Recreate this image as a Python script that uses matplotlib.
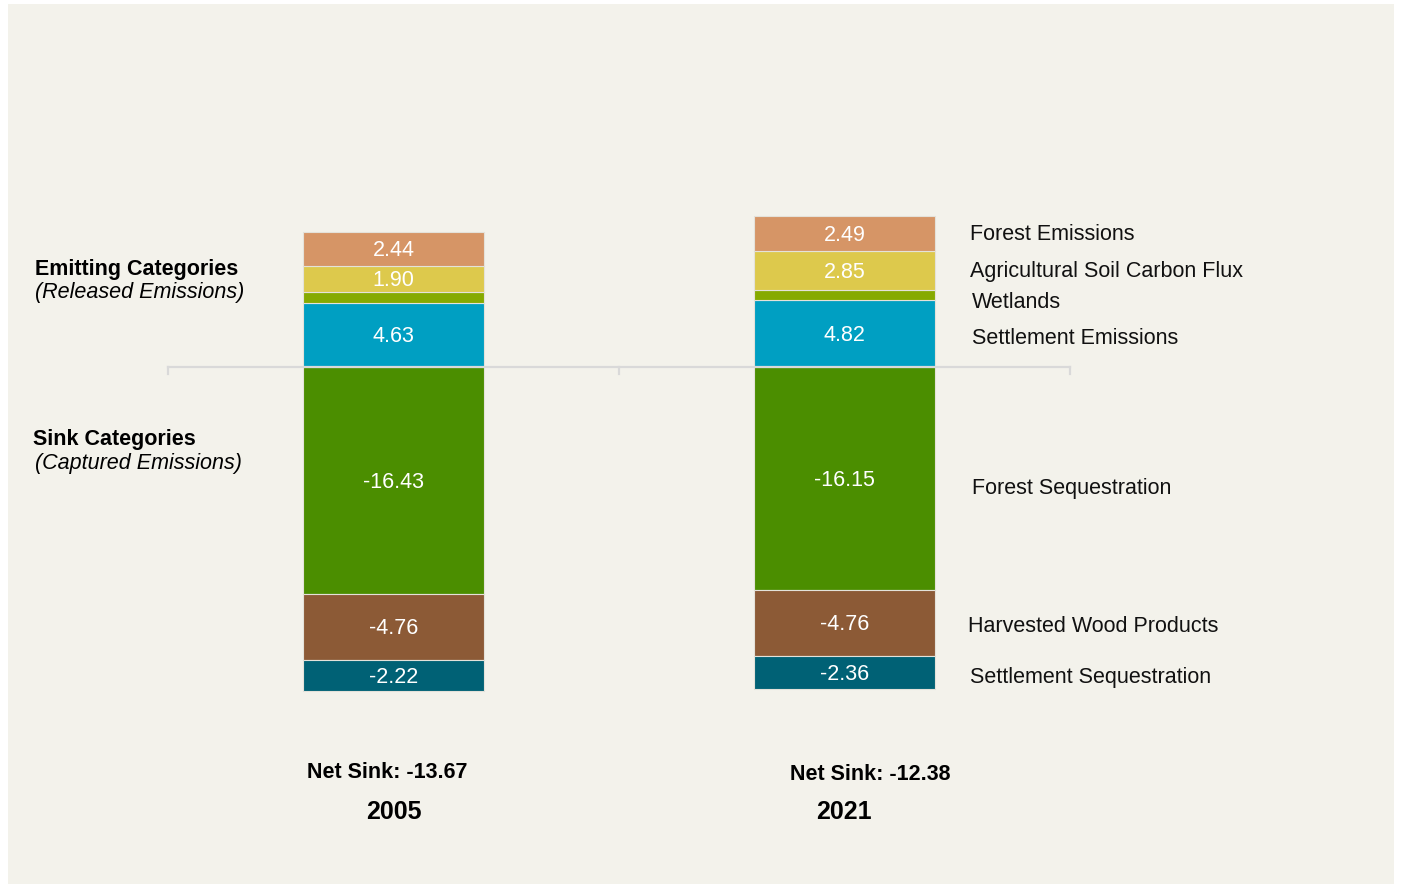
import numpy as np
import matplotlib.pyplot as plt
from matplotlib.patches import Rectangle

plt.rcParams['font.family'] = ['Liberation Sans', 'DejaVu Sans']

# data
years = ['2005', '2021']
net_sink = [-13.67, -12.38]

pos_names = ['Settlement Emissions', 'Wetlands', 'Agricultural Soil Carbon Flux', 'Forest Emissions']
pos_vals = [[4.63, 4.82], [0.77, 0.73], [1.90, 2.85], [2.44, 2.49]]
pos_cols = ['#009fc2', '#86aa00', '#ddc94c', '#d69566']
pos_show = [True, False, True, True]

neg_names = ['Forest Sequestration', 'Harvested Wood Products', 'Settlement Sequestration']
neg_vals = [[-16.43, -16.15], [-4.76, -4.76], [-2.22, -2.36]]
neg_cols = ['#4b8e00', '#8c5a36', '#006175']

W, H = 1402, 884
fig = plt.figure(figsize=(W / 100, H / 100), dpi=100, facecolor='white')
fig.patches.append(Rectangle((8 / W, 0), 1386 / W, 880 / H, transform=fig.transFigure,
                             facecolor='#f3f2eb', edgecolor='none', zorder=-10))

def fx(px):
    return px / W

def fy(py):
    # small offset: va='center' sits a bit high compared with the reference
    return 1 - (py + 2) / H

scale = 13.83
zero_px = 367
top_px, bot_px = 100, 760
ax = fig.add_axes([fx(168), 1 - bot_px / H, 902 / W, (bot_px - top_px) / H])
ax.set_xlim(-0.5, 1.5)
ax.set_ylim((zero_px - bot_px) / scale, (zero_px - top_px) / scale)
ax.patch.set_alpha(0)
for s in ax.spines.values():
    s.set_visible(False)
ax.set_xticks([])
ax.set_yticks([])

x = np.arange(len(years))
bw = 0.4
fs = 15.5

bottom = np.zeros(len(years))
for vals, col, show in zip(pos_vals, pos_cols, pos_show):
    vals = np.array(vals)
    ax.bar(x, vals, bw, bottom=bottom, color=col, edgecolor='#e4e2da', linewidth=0.8, zorder=2)
    if show:
        for xi, b, v in zip(x, bottom, vals):
            ax.text(xi, b + v / 2 - 0.12, f'{v:.2f}', ha='center', va='center', color='white', fontsize=fs, zorder=3)
    bottom += vals

bottom = np.zeros(len(years))
for vals, col in zip(neg_vals, neg_cols):
    vals = np.array(vals)
    ax.bar(x, vals, bw, bottom=bottom, color=col, edgecolor='#e4e2da', linewidth=0.8, zorder=2)
    for xi, b, v in zip(x, bottom, vals):
        ax.text(xi, b + v / 2 - 0.12, f'{v:.2f}', ha='center', va='center', color='white', fontsize=fs, zorder=3)
    bottom += vals

# zero line with downward ticks
ax.plot([-0.5, 1.5], [0, 0], color='#d9d9d9', lw=1.6, zorder=4, clip_on=False)
for t in [-0.5, 0.5, 1.5]:
    ax.plot([t, t], [0, -0.5], color='#d9d9d9', lw=1.6, zorder=4, clip_on=False)

# right side labels
right_labels = [('Forest Emissions', 970, 233), ('Agricultural Soil Carbon Flux', 970, 269),
                ('Wetlands', 972, 300), ('Settlement Emissions', 972, 337),
                ('Forest Sequestration', 972, 486), ('Harvested Wood Products', 968, 624),
                ('Settlement Sequestration', 970, 676)]
for txt, px, py in right_labels:
    fig.text(fx(px), fy(py), txt, ha='left', va='center', fontsize=fs, color='#111111')

# left group labels
fig.text(fx(35), fy(267), 'Emitting Categories', ha='left', va='center', fontsize=fs, fontweight='bold')
fig.text(fx(35), fy(291), '(Released Emissions)', ha='left', va='center', fontsize=fs, style='italic')
fig.text(fx(33), fy(438), 'Sink Categories', ha='left', va='center', fontsize=fs, fontweight='bold')
fig.text(fx(35), fy(462), '(Captured Emissions)', ha='left', va='center', fontsize=fs, style='italic')

# bottom labels
for ns, yr, nx, ny, yx in zip(net_sink, years, [387, 870], [770, 772], [394, 844]):
    fig.text(fx(nx), fy(ny), f'Net Sink: {ns:.2f}', ha='center', va='center', fontsize=15.5, fontweight='bold')
    fig.text(fx(yx), fy(810), yr, ha='center', va='center', fontsize=18, fontweight='bold')

fig.savefig('out.png', dpi=100, facecolor='white')
